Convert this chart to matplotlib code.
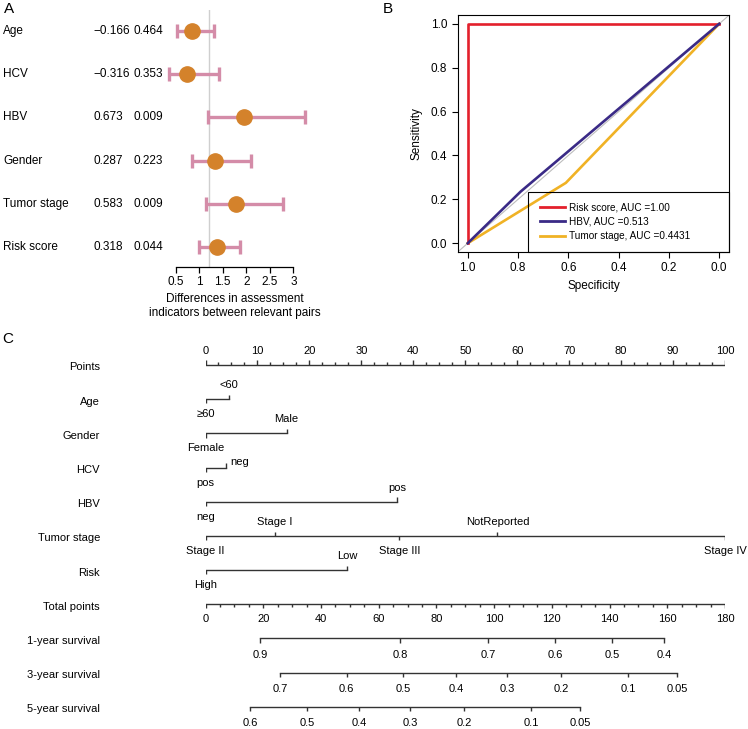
import numpy as np
import matplotlib
matplotlib.use('Agg')
import matplotlib.pyplot as plt
from matplotlib import transforms
from matplotlib.lines import Line2D
from matplotlib.patches import Rectangle

plt.rcParams['font.family'] = ['Liberation Sans', 'DejaVu Sans']
plt.rcParams['font.size'] = 8

# ---------- data: panel A (forest) ----------
forest_names = ['Age', 'HCV', 'HBV', 'Gender', 'Tumor stage', 'Risk score']
forest_coef = [-0.166, -0.316, 0.673, 0.287, 0.583, 0.318]
forest_p = ['0.464', '0.353', '0.009', '0.223', '0.009', '0.044']
forest_est = [0.85, 0.73, 1.96, 1.33, 1.79, 1.37]
forest_lo = [0.52, 0.36, 1.18, 0.84, 1.15, 1.00]
forest_hi = [1.31, 1.42, 3.24, 2.11, 2.78, 1.87]
forest_ref = 1.2

# ---------- data: panel B (ROC) ----------
roc_labels = ['Risk score, AUC =1.00', 'HBV, AUC =0.513', 'Tumor stage, AUC =0.4431']
risk_spec = [1.0, 1.0, 0.0]
risk_sens = [0.0, 1.0, 1.0]
hbv_spec = [1.0, 0.79, 0.0]
hbv_sens = [0.0, 0.235, 1.0]
stage_spec = [1.0, 0.61, 0.0]
stage_sens = [0.0, 0.275, 1.0]

# ---------- data: panel C (nomogram) ----------
nomo_vars = ['Age', 'Gender', 'HCV', 'HBV', 'Tumor stage', 'Risk']
nomo_levels = [['≥60', '<60'],
               ['Female', 'Male'],
               ['pos', 'neg'],
               ['neg', 'pos'],
               ['Stage II', 'Stage I', 'Stage III', 'NotReported', 'Stage IV'],
               ['High', 'Low']]
nomo_points = [[0, 4.5],
               [0, 15.6],
               [0, 3.9],
               [0, 36.9],
               [0, 13.4, 37.3, 56.2, 100],
               [0, 27.3]]
surv_names = ['1-year survival', '3-year survival', '5-year survival']
surv_vals = [[0.9, 0.8, 0.7, 0.6, 0.5, 0.4],
             [0.7, 0.6, 0.5, 0.4, 0.3, 0.2, 0.1, 0.05],
             [0.6, 0.5, 0.4, 0.3, 0.2, 0.1, 0.05]]
surv_total = [[19.0, 67.4, 98.0, 121.1, 140.8, 159.0],
              [25.8, 48.9, 68.5, 86.8, 104.6, 123.2, 146.5, 163.5],
              [15.4, 35.1, 53.2, 70.9, 89.7, 112.8, 129.8]]
total_max = 180

W, H = 748, 729
fig = plt.figure(figsize=(W / 100, H / 100), dpi=100)


def px_axes(l, t, r, b):
    return fig.add_axes([l / W, 1 - b / H, (r - l) / W, (b - t) / H])


# ================= A =================
pink = '#D48CA8'
orange = '#D4822B'
ax = px_axes(160, 10, 330, 267)
n = len(forest_names)
ypos = np.arange(n, 0, -1)
est = np.array(forest_est)
ax.axvline(forest_ref, color='#cfcfcf', lw=1, zorder=0)
ax.errorbar(est, ypos, xerr=[est - np.array(forest_lo), np.array(forest_hi) - est],
            fmt='o', color=orange, ms=11, ecolor=pink, elinewidth=2.4,
            capsize=5.2, capthick=2.4, zorder=3)
ax.set_xlim(0.5 - 15.7 / 47.04, 0.5 + 154.3 / 47.04)
ax.set_ylim(1 - 20 / 43.2, n + 21 / 43.2)
for s in ['left', 'right', 'top']:
    ax.spines[s].set_visible(False)
ax.spines['bottom'].set_bounds(0.5, 3)
ax.spines['bottom'].set_linewidth(0.9)
ax.set_xticks([0.5, 1, 1.5, 2, 2.5, 3])
ax.set_xticklabels(['0.5', '1', '1.5', '2', '2.5', '3'], fontsize=8.5)
ax.tick_params(axis='x', length=4, width=0.9, pad=2.5)
ax.set_yticks([])
trans = transforms.blended_transform_factory(fig.transFigure, ax.transData)
for y, name, c, p in zip(ypos, forest_names, forest_coef, forest_p):
    ax.text(3 / W, y, name, transform=trans, va='center', ha='left', fontsize=8.5)
    ax.text(93 / W, y, f'{c:.3f}'.replace('-', '−'), transform=trans,
            va='center', ha='left', fontsize=8.5)
    ax.text(133 / W, y, p, transform=trans, va='center', ha='left', fontsize=8.5)
fig.text(235 / W, 1 - 306 / H, 'Differences in assessment\nindicators between relevant pairs',
         ha='center', va='center', fontsize=8.5, linespacing=1.3)

# ================= B =================
axb = px_axes(457.7, 15, 729.3, 252)
axb.axline((1, 0), (0, 1), color='#bdbdbd', lw=0.8, zorder=1)
cols = ['#E3202C', '#3A2A86', '#F0B225']
axb.plot(risk_spec, risk_sens, color=cols[0], lw=1.9, zorder=3)
axb.plot(hbv_spec, hbv_sens, color=cols[1], lw=1.9, zorder=3)
axb.plot(stage_spec, stage_sens, color=cols[2], lw=1.9, zorder=2)
axb.set_xlim(1.04, -0.04)
axb.set_ylim(-0.04, 1.04)
ticks = [1.0, 0.8, 0.6, 0.4, 0.2, 0.0]
axb.set_xticks(ticks)
axb.set_xticklabels([f'{t:.1f}' for t in ticks])
axb.set_yticks(ticks)
axb.set_yticklabels([f'{t:.1f}' for t in ticks])
axb.tick_params(length=4, width=0.8, labelsize=8.5, pad=3.5)
for s in axb.spines.values():
    s.set_linewidth(0.8)
axb.set_xlabel('Specificity', fontsize=8.5)
axb.set_ylabel('Sensitivity', fontsize=8.5)
axb.xaxis.set_label_coords(0.5, -(280 - 252) / 237)
axb.yaxis.set_label_coords(-(457.7 - 422) / 271.6, 0.5)
axb.add_patch(Rectangle(((528.3 - 457.7) / 271.6, 0), 1 - (528.3 - 457.7) / 271.6,
                        (252 - 191.7) / 237, transform=axb.transAxes, fill=False,
                        edgecolor='black', lw=0.8, clip_on=False, zorder=4))
handles = [Line2D([], [], color=c, lw=2) for c in cols]
axb.legend(handles, roc_labels, loc='upper left',
           bbox_to_anchor=((540 - 457.7) / 271.6, (252 - 202) / 237),
           frameon=False, fontsize=7.2, handlelength=2.5, handletextpad=0.4,
           labelspacing=0.45, borderpad=0, borderaxespad=0)

# ================= C =================
ink = '#333333'
lw = 1.0
axc = px_axes(205.5, 340, 725, 729)
axc.set_xlim(0, 100)
ytop, ybot = -0.73, 10.65
axc.set_ylim(ybot, ytop)
axc.axis('off')
row_px = (729 - 340) / (ybot - ytop)
lab_trans = transforms.blended_transform_factory(fig.transFigure, axc.transData)


def row_label(row, text):
    axc.text(100 / W, row + 2.5 / row_px, text, transform=lab_trans,
             ha='right', va='center', fontsize=8)


def tick(x, row, length, up):
    d = length / row_px
    axc.plot([x, x], [row, row - d if up else row + d], color=ink, lw=lw,
             solid_capstyle='butt')


def label(x, row, text, dy, ha='center', dx=0):
    axc.annotate(text, (x, row), xytext=(dx, dy), textcoords='offset pixels',
                 ha=ha, va='center', fontsize=8)


# Points axis
row = 0
row_label(row, 'Points')
axc.plot([0, 100], [row, row], color=ink, lw=lw)
for v in np.arange(0, 100.01, 2.5):
    tick(v, row, 4.5 if v % 10 == 0 else 2.5, True)
for v in range(0, 101, 10):
    label(v, row, str(v), 14)

# categorical variables
for i, (name, levels, pts) in enumerate(zip(nomo_vars, nomo_levels, nomo_points)):
    row = i + 1
    row_label(row, name)
    axc.plot([min(pts), max(pts)], [row, row], color=ink, lw=lw)
    order = np.argsort(pts)
    for k, j in enumerate(order):
        up = k % 2 == 1
        tick(pts[j], row, 4.2, up)
        if name == 'HCV' and up:
            label(pts[j], row, levels[j], 6, ha='left', dx=5)
        elif up:
            label(pts[j], row, levels[j], 14)
        else:
            label(pts[j], row, levels[j], -15)

# Total points
row = 7
row_label(row, 'Total points')
scale = 100 / total_max
axc.plot([0, 100], [row, row], color=ink, lw=lw)
for v in range(0, total_max + 1, 5):
    tick(v * scale, row, 4 if v % 20 == 0 else 2.5, False)
for v in range(0, total_max + 1, 20):
    label(v * scale, row, str(v), -15)

# survival axes
for i, (name, vals, tot) in enumerate(zip(surv_names, surv_vals, surv_total)):
    row = 8 + i
    row_label(row, name)
    xs = [t * scale for t in tot]
    axc.plot([min(xs), max(xs)], [row, row], color=ink, lw=lw)
    for x, v in zip(xs, vals):
        tick(x, row, 4.5, False)
        label(x, row, f'{v:g}', -16.5)

# panel letters
fig.text(9 / W, 1 - 9 / H, 'A', fontsize=11, ha='center', va='center')
fig.text(388 / W, 1 - 9 / H, 'B', fontsize=11, ha='center', va='center')
fig.text(8 / W, 1 - 339 / H, 'C', fontsize=11, ha='center', va='center')

fig.savefig('out.png', dpi=100)
